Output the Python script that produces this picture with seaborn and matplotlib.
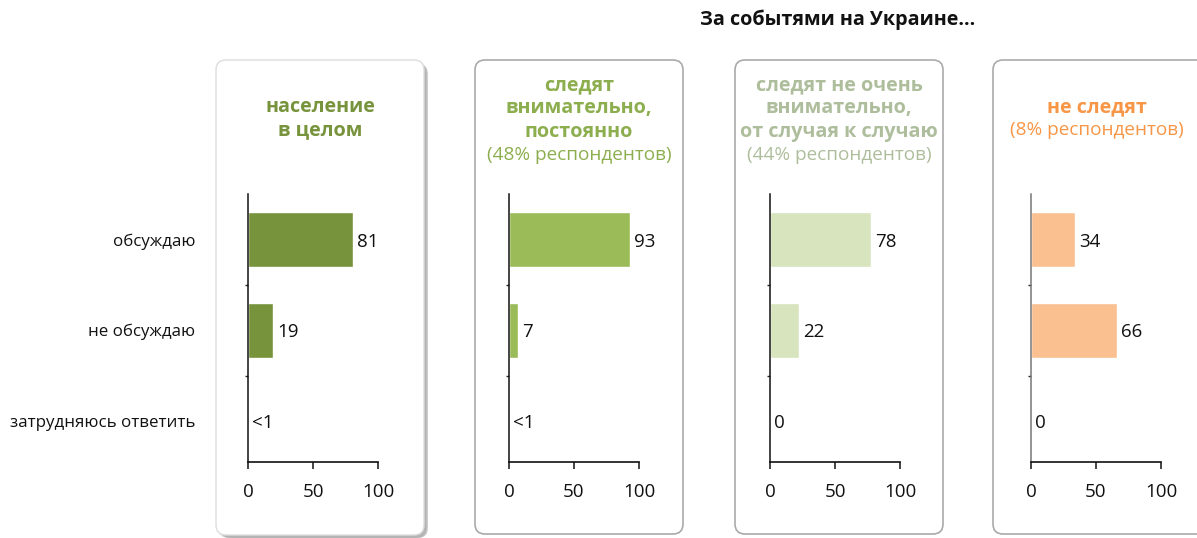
import pandas as pd
import matplotlib.pyplot as plt
import matplotlib.transforms as mtransforms
from matplotlib.patches import FancyBboxPatch
import seaborn as sns

# =========================
# DATA
# =========================

categories = ["обсуждаю", "не обсуждаю", "затрудняюсь ответить"]

panel_titles = [
    ["население", "в целом"],
    ["следят", "внимательно,", "постоянно"],
    ["следят не очень", "внимательно,", "от случая к случаю"],
    ["не следят"],
]
panel_subtitles = [None, "(48% респондентов)", "(44% респондентов)", "(8% респондентов)"]

values_overall = [81, 19, 0]
values_close = [93, 7, 0]
values_casual = [78, 22, 0]
values_not = [34, 66, 0]

labels_overall = ["81", "19", "<1"]
labels_close = ["93", "7", "<1"]
labels_casual = ["78", "22", "0"]
labels_not = ["34", "66", "0"]

x_ticks = [0, 50, 100]

all_values = [values_overall, values_close, values_casual, values_not]
all_labels = [labels_overall, labels_close, labels_casual, labels_not]

bar_colors = ["#77933C", "#9BBB59", "#D7E4BD", "#FAC090"]
title_colors = ["#77933C", "#8DAE4E", "#AEBE9C", "#F79646"]

# =========================
# FIGURE
# =========================

sns.set_style("white")
plt.rcParams["font.family"] = ["Open Sans", "DejaVu Sans"]

W, H = 1197, 538
fig = plt.figure(figsize=(W / 100, H / 100), dpi=100)

# panel geometry in pixels
axis_left = [248, 509, 770, 1031]
box_left = [216, 475, 735, 993]
box_widths = [208, 208, 208, 230]
panel_centers = [320, 579, 839, 1097]
axis_w = 130
axis_top, axis_bottom = 194, 462

ident = mtransforms.IdentityTransform()

# boxes (behind the axes)
for i, bx in enumerate(box_left):
    bw = box_widths[i]
    if i == 0:
        # soft shadow for the first panel
        for k, a in enumerate([0.08, 0.15, 0.28]):
            sh = FancyBboxPatch(
                (bx + 2 + k, 0), bw, 537 - 60 - 1 - k,
                boxstyle="round,pad=0,rounding_size=10",
                transform=ident, facecolor="#555555", edgecolor="none",
                alpha=a, zorder=-3
            )
            fig.add_artist(sh)
        box = FancyBboxPatch(
            (bx, H - 535), bw, 535 - 60,
            boxstyle="round,pad=0,rounding_size=10",
            transform=ident, facecolor="white", edgecolor="#DDDDDD",
            linewidth=1, zorder=-2
        )
    else:
        box = FancyBboxPatch(
            (bx, H - 534), bw, 534 - 60,
            boxstyle="round,pad=0,rounding_size=10",
            transform=ident, facecolor="white", edgecolor="#AAAAAA",
            linewidth=1.2, zorder=-2
        )
    fig.add_artist(box)

# =========================
# BAR PANELS
# =========================

for i in range(4):
    ax = fig.add_axes([
        axis_left[i] / W,
        (H - axis_bottom) / H,
        axis_w / W,
        (axis_bottom - axis_top) / H,
    ])
    ax.patch.set_alpha(0)

    df = pd.DataFrame({"category": categories, "value": all_values[i]})
    sns.barplot(
        data=df, x="value", y="category", color=bar_colors[i],
        orient="h", width=0.6, saturation=1, ax=ax
    )

    for j, (v, lab) in enumerate(zip(all_values[i], all_labels[i])):
        ax.annotate(
            lab, (v, j), xytext=(3, -1.5), textcoords="offset points",
            va="center", ha="left", fontsize=13.5, color="#111111"
        )

    ax.set_xlim(0, 100)
    ax.set_ylim(2.45, -0.5)
    ax.set_xticks(x_ticks)
    ax.set_xlabel("")
    ax.set_ylabel("")

    sns.despine(ax=ax)
    ax.spines["left"].set_color("#777777" if i == 3 else "#111111")
    ax.spines["bottom"].set_color("#111111")
    ax.spines["left"].set_linewidth(1.1)
    ax.spines["bottom"].set_linewidth(1.2)

    ax.tick_params(axis="x", direction="out", length=5, width=1.1,
                   color="#111111", labelsize=13.5, pad=10, bottom=True,
                   labelcolor="#111111")
    ax.set_yticks([0.5, 1.5], minor=True)
    ax.tick_params(axis="y", which="minor", length=2, width=1, left=True)

    if i == 0:
        ax.tick_params(axis="y", which="major", length=0, pad=38,
                       labelsize=12.2, colors="#111111")
    else:
        ax.tick_params(axis="y", which="major", length=0, labelleft=False)

    # panel titles
    cx = panel_centers[i] / W
    lines = panel_titles[i]
    sub = panel_subtitles[i]
    n = len(lines) + (1 if sub else 0)
    y0 = 85 if n == 4 else 107
    for k, line in enumerate(lines):
        fig.text(cx, 1 - (y0 + k * 23.3) / H, line, ha="center", va="center",
                 fontsize=14.2, fontweight="bold", color=title_colors[i])
    if sub:
        k = len(lines)
        fig.text(cx, 1 - (y0 + k * 23.3) / H, sub, ha="center", va="center",
                 fontsize=13.7, color=title_colors[i])

# =========================
# MAIN TITLE
# =========================

fig.text(838 / W, 1 - 20 / H, "За событями на Украине...", ha="center",
         va="center", fontsize=14.2, fontweight="bold", color="#111111")

plt.savefig("out.png", dpi=100)
plt.close()
